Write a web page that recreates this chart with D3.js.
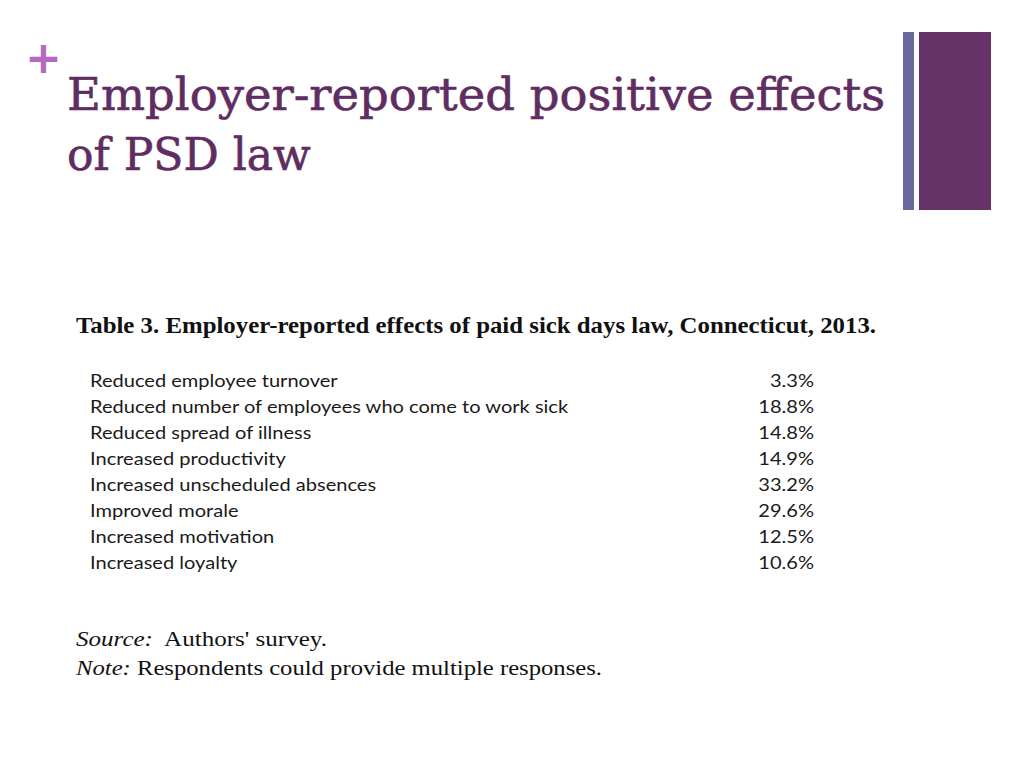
<!DOCTYPE html>
<html><head><meta charset="utf-8">
<script src="https://cdn.jsdelivr.net/npm/d3@7"></script>
<style>html,body{margin:0;padding:0;background:#fff;}svg{display:block;}</style>
</head><body>
<svg id="c" width="1024" height="768"></svg>
<script>
const slideTitle = ["Employer-reported positive effects", "of PSD law"];
const tableTitle = "Table 3. Employer-reported effects of paid sick days law, Connecticut, 2013.";
const categories = [
  "Reduced employee turnover",
  "Reduced number of employees who come to work sick",
  "Reduced spread of illness",
  "Increased productivity",
  "Increased unscheduled absences",
  "Improved morale",
  "Increased motivation",
  "Increased loyalty"
];
const values = [3.3, 18.8, 14.8, 14.9, 33.2, 29.6, 12.5, 10.6];
const notes = [["Source:", "  Authors' survey."], ["Note:", " Respondents could provide multiple responses."]];

const svg = d3.select("#c");
svg.append("rect").attr("width",1024).attr("height",768).attr("fill","#fff");

// decorative bars
svg.append("rect").attr("x",903).attr("y",32).attr("width",11).attr("height",178).attr("fill","#67699c");
svg.append("rect").attr("x",919).attr("y",32).attr("width",72).attr("height",178).attr("fill","#663366");

// plus
svg.append("text").attr("x",25).attr("y",73).attr("font-family","DejaVu Sans").attr("font-weight","bold")
  .attr("font-size",44).attr("fill","#b768c0").text("+");

// slide title
svg.selectAll("text.st").data(slideTitle).join("text").attr("class","st")
  .attr("x",67).attr("y",(d,i)=>110+i*60)
  .attr("font-family","DejaVu Serif").attr("font-size",44).attr("fill","#5f2d62")
  .attr("stroke","#5f2d62").attr("stroke-width",0.6)
  .attr("textLength",(d,i)=> i===0 ? 818 : null).attr("lengthAdjust","spacingAndGlyphs")
  .text(d=>d);

// table title
svg.append("text").attr("x",76).attr("y",333)
  .attr("font-family","Liberation Serif").attr("font-weight","bold").attr("font-size",23).attr("fill","#111")
  .attr("textLength",800).attr("lengthAdjust","spacingAndGlyphs")
  .text(tableTitle);

const y = d3.scaleBand().domain(categories).range([368, 576]).paddingInner(0);
const fmt = d3.format(".1f");
const sx = 1.115;

const rows = svg.append("g").selectAll("g").data(categories).join("g")
  .attr("transform", d=>`translate(0,${y(d)+y.bandwidth()*0.73})`);
rows.append("text").attr("transform",`translate(90,0) scale(${sx},1)`)
  .attr("font-family","Lato").attr("font-size",18).attr("fill","#1a1a1a")
  .text(d=>d);
rows.append("text").attr("transform",`translate(814,0) scale(${sx},1)`).attr("text-anchor","end")
  .attr("font-family","Lato").attr("font-size",18).attr("fill","#1a1a1a")
  .text((d,i)=>fmt(values[i])+"%");

// notes
const noteWidths = [251, 526];
const nt = svg.selectAll("text.nt").data(notes).join("text").attr("class","nt")
  .attr("x",76).attr("y",(d,i)=>646+i*29)
  .attr("font-family","Liberation Serif").attr("font-size",22).attr("fill","#111")
  .attr("textLength",(d,i)=>noteWidths[i]).attr("lengthAdjust","spacingAndGlyphs")
  .style("white-space","pre");
nt.append("tspan").attr("font-style","italic").text(d=>d[0]);
nt.append("tspan").text(d=>d[1]);
</script>
</body></html>
